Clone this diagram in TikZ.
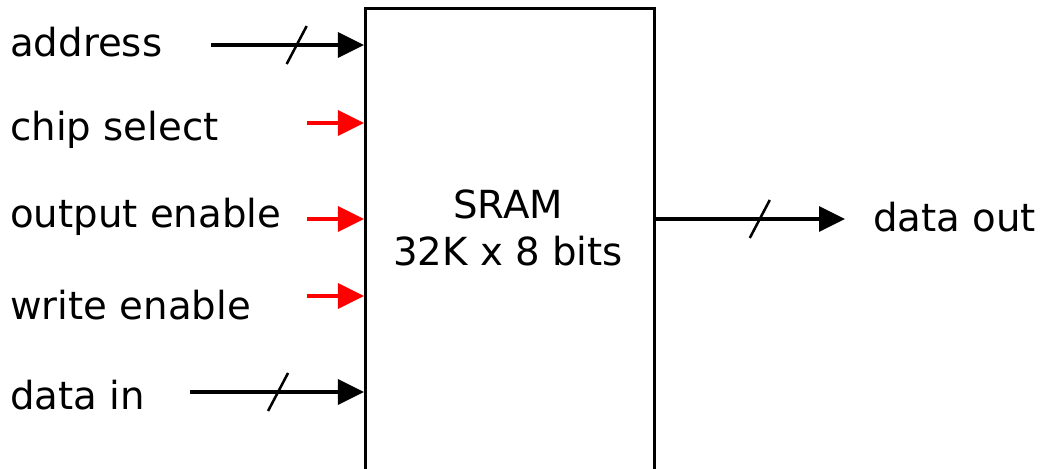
\documentclass[tikz,border=0pt]{standalone}
\usepackage{fontspec}
\setmainfont{DejaVu Sans}
\usepackage{tikz}
\usetikzlibrary{arrows.meta,calc}

\begin{document}
\begin{tikzpicture}[
      x=0.025cm, y=-0.025cm,
      font=\fontsize{27.5}{35}\selectfont,
      lbl/.style={anchor=west, inner sep=0pt},
      blk/.style={draw=black, line width=1.8pt, fill=white, inner sep=0pt,
                  minimum width=7.225cm, minimum height=11.65cm, anchor=north west},
      bus/.style={-{Triangle[length=6.5mm, width=6.2mm]}, draw=black, line width=2.8pt},
      ctl/.style={-{Triangle[length=6.5mm, width=6.2mm]}, draw=red, line width=2.8pt},
      slash/.style={draw=black, line width=1.8pt},
    ]
    \useasboundingbox (0,0) rectangle (1044,468);

    \node[blk] (sram) at (364,7) {};
    \node[align=center] (sramtxt) at (508,228) {SRAM\\[-2pt]32K x 8 bits};

    % input labels
    \node[lbl] (addr) at (10,42)  {address};
    \node[lbl] (cs)   at (10,130) {chip select};
    \node[lbl] (oe)   at (10,217) {output enable};
    \node[lbl] (we)   at (10,305) {write enable};
    \node[lbl] (din)  at (10,395) {data in};
    \node[lbl] (dout) at (873,217) {data out};

    % free ends of the wires
    \coordinate (addrs) at (211,45);
    \coordinate (css)   at (307,123);
    \coordinate (oes)   at (307,219);
    \coordinate (wes)   at (307,296);
    \coordinate (dins)  at (190,392);
    \coordinate (douts) at (845,219);

    \draw[bus] (addrs) -- (addrs -| sram.west);
    \draw[ctl] (css)   -- (css -| sram.west);
    \draw[ctl] (oes)   -- (oes -| sram.west);
    \draw[ctl] (wes)   -- (wes -| sram.west);
    \draw[bus] (dins)  -- (dins -| sram.west);
    \draw[bus] (douts -| sram.east) -- (douts);

    % bus width marks
    \draw[slash] ($(addrs)!0.56!(addrs -| sram.west)$) ++(-10,19) -- ++(20,-38);
    \draw[slash] ($(dins)!0.506!(dins -| sram.west)$) ++(-10,19) -- ++(20,-38);
    \draw[slash] ($(douts -| sram.east)!0.55!(douts)$) ++(-10,19) -- ++(20,-38);

  \end{tikzpicture}
\end{document}
